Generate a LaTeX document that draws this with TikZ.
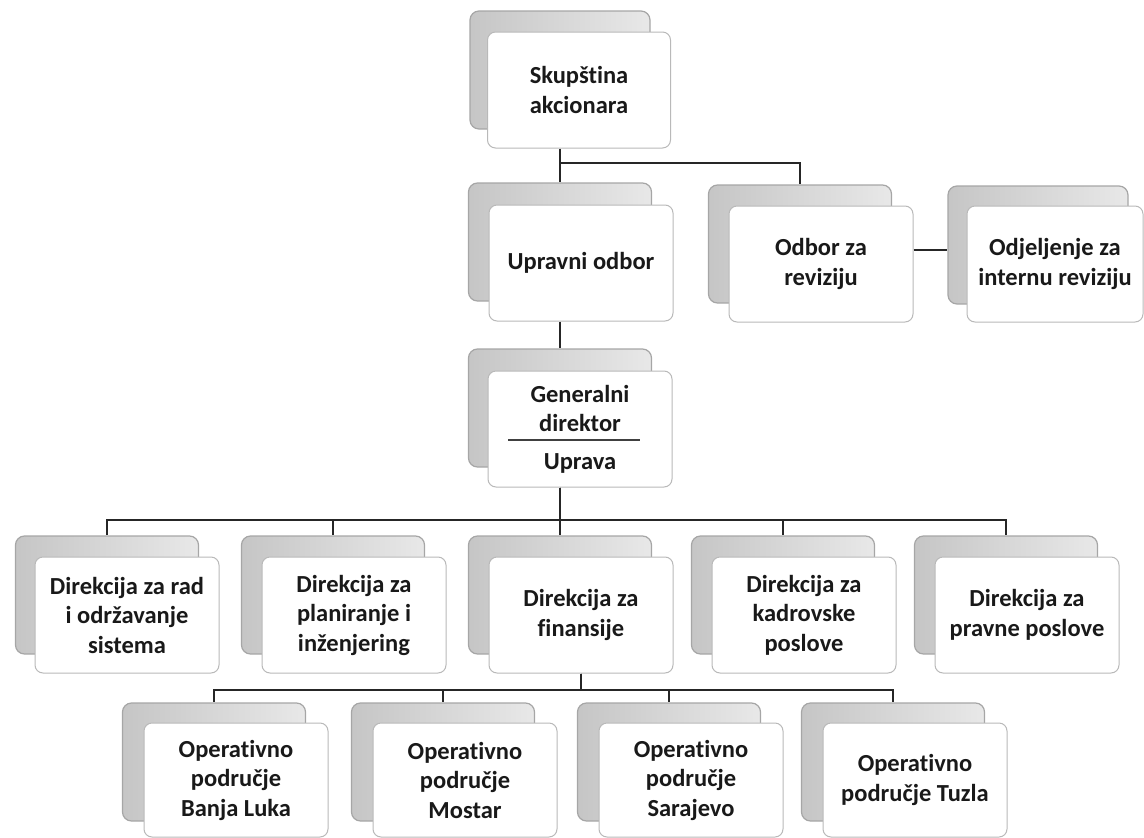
\documentclass[tikz,border=0pt]{standalone}
\usepackage{fontspec}
\setmainfont{Carlito}[RawFeature=-liga]
\usetikzlibrary{calc}
\tikzset{
  backbox/.style={draw=gray!70, left color=gray!45, right color=gray!18, line width=1.2pt, rounded corners=9pt,
    minimum width=183pt, minimum height=118pt},
  frontbox/.style={draw=gray!55, fill=white, line width=1pt, rounded corners=8pt,
    minimum width=184pt, minimum height=116pt, align=center,
    font=\bfseries\fontsize{24.5}{29.5}\selectfont, text=black!90},
  conn/.style={draw=black!85, line width=2.5pt},
  sepline/.style={draw=black!75, line width=1.3pt}
}
\begin{document}
\begin{tikzpicture}[x=1pt,y=-1pt]
\useasboundingbox (0,0) rectangle (1144,838);
% top
\node[backbox, minimum width=180pt] (skB) at (560,70) {};
\node[frontbox, minimum width=183pt] (skF) at (579,90) {Skupština\\akcionara};
% level 1
\node[backbox] (upB) at (560,242) {};
\node[frontbox] (upF) at (581,263) {Upravni odbor};
\node[backbox] (odB) at (800,244) {};
\node[frontbox] (odF) at (821,264) {Odbor za\\reviziju};
\node[backbox, minimum width=180pt] (ojB) at (1038,245) {};
\node[frontbox, minimum width=176pt] (ojF) at (1055,264) {Odjeljenje za\\internu reviziju};
% general director
\node[backbox] (gdB) at (560,408) {};
\node[frontbox] (gdF) at (580,429) {Generalni\\direktor\\[8pt]Uprava};
\draw[sepline] ($(gdF.center)+(-72,11)$) -- ($(gdF.center)+(60,11)$);
% level 2
\node[backbox] (d1B) at (107,595) {};
\node[frontbox] (d1F) at (127,615) {Direkcija za rad\\i održavanje\\sistema};
\node[backbox] (d2B) at (333,595) {};
\node[frontbox] (d2F) at (354,615) {Direkcija za\\planiranje i\\inženjering};
\node[backbox] (d3B) at (560,595) {};
\node[frontbox] (d3F) at (581,615) {Direkcija za\\finansije};
\node[backbox] (d4B) at (783,595) {};
\node[frontbox] (d4F) at (804,615) {Direkcija za\\kadrovske\\poslove};
\node[backbox] (d5B) at (1006,595) {};
\node[frontbox] (d5F) at (1027,615) {Direkcija za\\pravne poslove};
% level 3
\node[backbox] (o1B) at (214,762) {};
\node[frontbox, minimum height=114pt] (o1F) at (236,780) {Operativno\\područje\\Banja Luka};
\node[backbox] (o2B) at (443,762) {};
\node[frontbox, minimum height=114pt] (o2F) at (465,780) {Operativno\\područje\\Mostar};
\node[backbox] (o3B) at (669,762) {};
\node[frontbox, minimum height=114pt] (o3F) at (691,780) {Operativno\\područje\\Sarajevo};
\node[backbox] (o4B) at (893,762) {};
\node[frontbox, minimum height=114pt] (o4F) at (915,780) {Operativno\\područje Tuzla};
% connectors
\coordinate (j1) at (560,163);
\coordinate (j2) at (930,250);
\coordinate (bus1) at (560,520);
\coordinate (bus2) at (581,690);
\draw[conn] (skB |- skF.south) -- (upB.north);
\draw[conn] (j1) -| (odB.north);
\draw[conn] (odF.east |- j2) -- (ojB.west |- j2);
\draw[conn] (upB |- upF.south) -- (gdB.north);
\foreach \n in {d1B,d2B,d3B,d4B,d5B}{
  \draw[conn] (gdB |- gdF.south) -- (bus1) -| (\n.north);
}
\foreach \n in {o1B,o2B,o3B,o4B}{
  \draw[conn] (d3F.south) -- (bus2) -| (\n.north);
}
\end{tikzpicture}
\end{document}
